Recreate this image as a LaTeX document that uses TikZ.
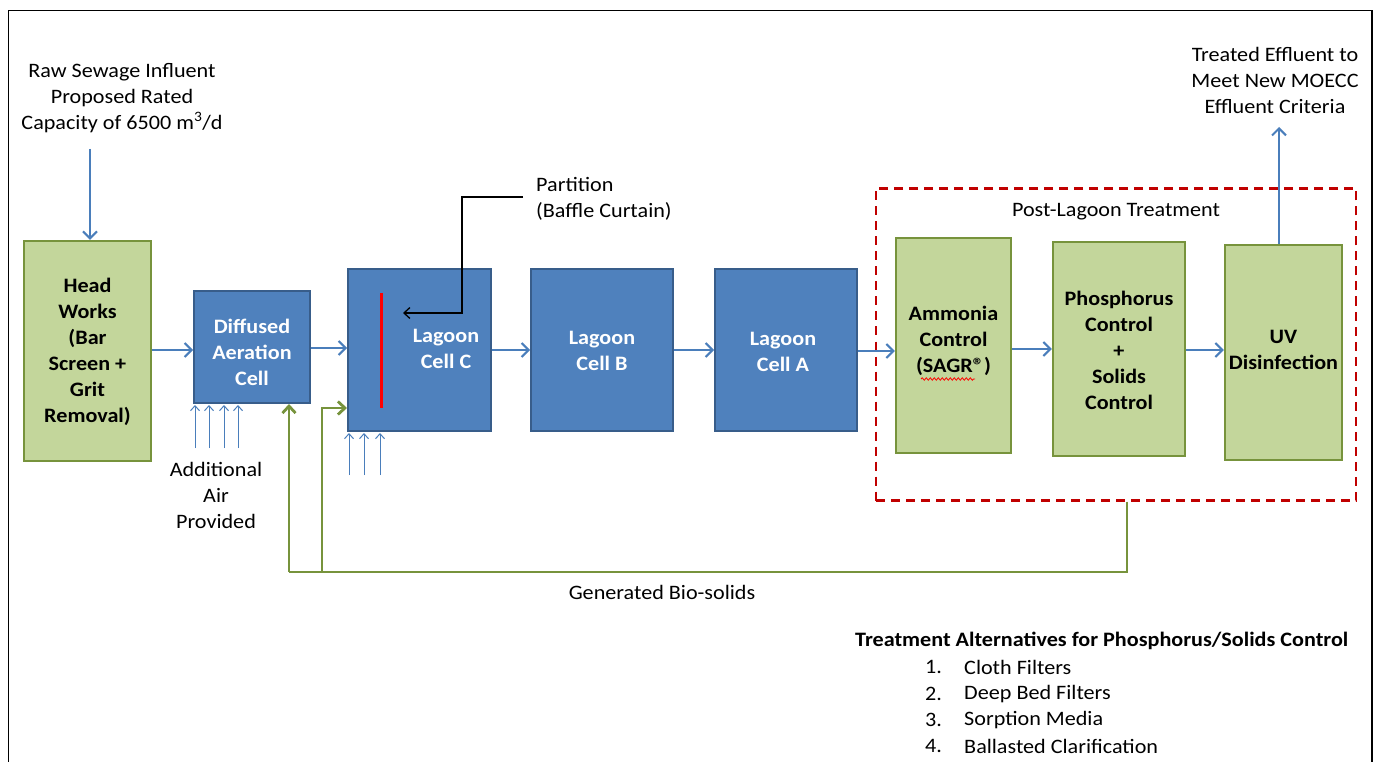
\documentclass[tikz,border=0pt]{standalone}
\usepackage{fontspec}
\setmainfont{Carlito}[FakeStretch=1.08]
\usetikzlibrary{arrows.meta,decorations.pathmorphing}
\definecolor{cellblue}{HTML}{4F81BD}
\definecolor{cellblueedge}{HTML}{385D8A}
\definecolor{flowblue}{HTML}{4A7EBB}
\definecolor{unitgreen}{HTML}{C3D69B}
\definecolor{unitgreenedge}{HTML}{77933C}
\definecolor{dashred}{HTML}{C00000}
\begin{document}
\begin{tikzpicture}[x=1pt,y=-1pt,
  txt/.style={font=\fontsize{20.5}{26}\selectfont, align=center, inner sep=0pt, text=black},
  boldtxt/.style={font=\fontsize{20.5}{26}\selectfont\bfseries, align=center, inner sep=0pt, text=black},
  celltxt/.style={boldtxt, text=white},
  bluecell/.style={draw=cellblueedge, fill=cellblue, line width=2pt, inner sep=0pt},
  greenunit/.style={draw=unitgreenedge, fill=unitgreen, line width=2.4pt, inner sep=0pt},
  flow/.style={draw=flowblue, line width=2pt, -{Straight Barb[length=7pt,width=14pt,line width=2pt]}},
  air/.style={draw=flowblue, line width=1pt, -{Straight Barb[length=5pt,width=9pt,line width=1pt]}},
  bio/.style={draw=unitgreenedge, line width=2.8pt},
  bioarrow/.style={bio, -{Straight Barb[length=7pt,width=13pt,line width=2.8pt]}},
  leader/.style={draw=black, line width=1.3pt, -{Straight Barb[length=6pt,width=11pt,line width=1.3pt]}},
]
\useasboundingbox (0,0) rectangle (1377,762);
\fill[white] (0,0) rectangle (1377,762);

% outer frame (open at the bottom)
\draw[line width=1.4pt] (8.5,762) -- (8.5,10.5) -- (1372,10.5) -- (1372,762);

% influent
\node[txt] (influent) at (122,98) {Raw Sewage Influent\\Proposed Rated\\Capacity of 6500 m\textsuperscript{3}/d};

% process units
\node[greenunit, minimum width=127, minimum height=220] (hw) at (87.5,351) {};
\node[boldtxt] (hwtext) at (87.5,352) {Head\\Works\\(Bar\\Screen +\\Grit\\Removal)};

\node[bluecell, minimum width=116, minimum height=112] (da) at (252,347) {};
\node[celltxt] (datext) at (252,352) {Diffused\\Aeration\\Cell};

\node[bluecell, minimum width=143, minimum height=162] (lc) at (419.5,350) {};
\node[celltxt] (lctext) at (446,349) {Lagoon\\Cell C};

\node[bluecell, minimum width=142, minimum height=162] (lb) at (602,350) {};
\node[celltxt] (lbtext) at (602,351) {Lagoon\\Cell B};

\node[bluecell, minimum width=142, minimum height=162] (la) at (786,350) {};
\node[celltxt] (latext) at (783,352) {Lagoon\\Cell A};

% post-lagoon treatment group
\node[draw=dashred, line width=2.4pt, dash pattern=on 9pt off 6pt, minimum width=480, minimum height=312, inner sep=0pt] (post) at (1116,344.5) {};
\node[txt] (posttext) at (1116,212) {Post-Lagoon Treatment};

\node[greenunit, minimum width=115, minimum height=215] (am) at (953.5,345.5) {};
\node[boldtxt] (amtext) at (953.5,341) {Ammonia\\Control\\(SAGR®)};
\draw[red, line width=0.8pt, decorate, decoration={snake, amplitude=1.2pt, segment length=4pt}] (921,379) -- (975,379);

\node[greenunit, minimum width=132, minimum height=214] (ph) at (1119,349) {};
\node[boldtxt] (phtext) at (1119,350) {Phosphorus\\Control\\+\\Solids\\Control};

\node[greenunit, minimum width=117, minimum height=215] (uv) at (1283.5,352.5) {};
\node[boldtxt] (uvtext) at (1283.5,350) {UV\\Disinfection};

\node[txt] (effluent) at (1275,80) {Treated Effluent to\\Meet New MOECC\\Effluent Criteria};

% main flow path
\draw[flow] (influent.south -| 90,0) ++(0,16) -- (hw.north -| 90,0);
\draw[flow] (hw.east |- 0,350) -- (da.west |- 0,350);
\draw[flow] (da.east |- 0,348) -- (lc.west |- 0,348);
\draw[flow] (lc.east |- 0,350) -- (lb.west |- 0,350);
\draw[flow] (lb.east |- 0,350) -- (la.west |- 0,350);
\draw[flow] (la.east |- 0,351) -- (am.west |- 0,351);
\draw[flow] (am.east |- 0,349) -- (ph.west |- 0,349);
\draw[flow] (ph.east |- 0,350) -- (uv.west |- 0,350);
\draw[flow] (uv.north -| 1279,0) -- (1279,127);

% aeration air supply
\foreach \x in {195,209,224,238} \draw[air] (\x,448) -- (\x,405);
\foreach \x in {349,364,380} \draw[air] (\x,475) -- (\x,433);
\node[txt] (airtext) at (216,495) {Additional\\Air\\Provided};

% baffle curtain and its label
\coordinate (baffletop) at (381,293);
\coordinate (bafflebot) at (381,408);
\draw[red, line width=3pt] (baffletop) -- (bafflebot);
\node[txt, align=left, anchor=west] (partition) at (536,199) {Partition\\(Baffle Curtain)};
\coordinate (bafflemark) at (403,313);
\draw[leader] ([xshift=-13pt,yshift=2pt]partition.west) -| (462,313) -- (bafflemark);

% bio-solids return
\coordinate (bsright) at (1127,572);
\coordinate (bsleft) at (289,572);
\coordinate (bsbranch) at (322,572);
\coordinate (bsknee) at (322,408);
\draw[bio] (post.south -| bsright) -- (bsright) -- (bsleft);
\draw[bioarrow] (bsleft) -- (bsleft |- da.south);
\draw[bioarrow] (bsbranch) -- (bsknee) -- (bsknee -| lc.west);
\node[txt] (biotext) at (662,592) {Generated Bio-solids};

% alternatives list
\node[boldtxt, anchor=west] (alttitle) at (855,641) {Treatment Alternatives for Phosphorus/Solids Control};
\foreach \n/\t/\y in {1/Cloth Filters/667, 2/Deep Bed Filters/694, 3/Sorption Media/720, 4/Ballasted Clarification/746} {
  \node[txt, anchor=west] (altnum\n) at (925,\y) {\n.};
  \node[txt, anchor=west] (alt\n) at (964,\y) {\t};
}
\end{tikzpicture}
\end{document}
